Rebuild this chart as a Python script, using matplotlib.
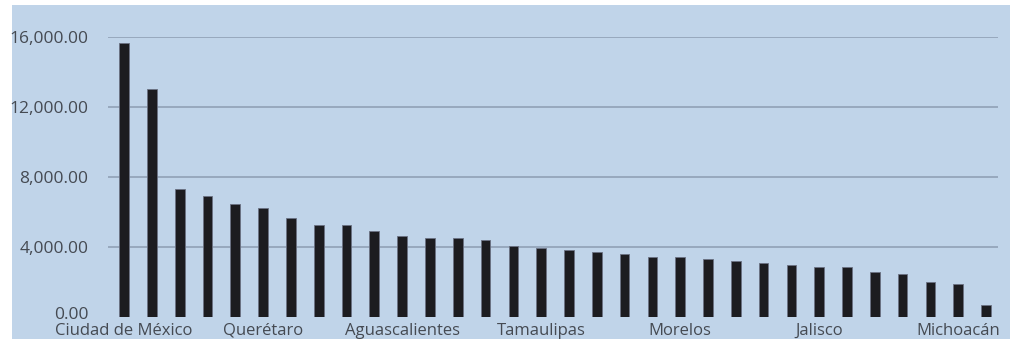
import matplotlib.pyplot as plt
from matplotlib.patches import Rectangle
from matplotlib.transforms import ScaledTranslation

# values per state, sorted descending
values = [
    15650, 13000, 7310, 6910, 6460, 6230, 5630, 5260,
    5260, 4900, 4650, 4530, 4530, 4420, 4040, 3930,
    3830, 3700, 3580, 3450, 3450, 3310, 3200, 3090,
    2970, 2840, 2840, 2570, 2470, 1980, 1870, 670,
]
tick_labels = [
    "Ciudad de México", "Querétaro", "Aguascalientes", "Tamaulipas",
    "Morelos", "Jalisco", "Michoacán",
]
y_ticks = [0, 4000, 8000, 12000, 16000]

BG = "#c0d4e9"
TEXT = "#454a52"

plt.rcParams["font.family"] = ["Open Sans", "DejaVu Sans"]

fig = plt.figure(figsize=(10.10, 3.39), dpi=100)
fig.patches.append(Rectangle((12 / 1010, 0), 998 / 1010, 334 / 339,
                             transform=fig.transFigure, facecolor=BG,
                             edgecolor="none", zorder=-10))

ax = fig.add_axes([108 / 1010, 22 / 339, 890 / 1010, 280 / 339])
ax.set_facecolor("none")

x = list(range(len(values)))
ax.bar(x, values, width=0.35, color="#1c1c20", edgecolor="#6b7283",
       linewidth=0.6, zorder=3)

ax.set_xlim(-0.58, 31.43)
ax.set_ylim(0, 16000)
ax.set_yticks(y_ticks)
ax.set_yticklabels([f"{v:,.2f}" for v in y_ticks])
ax.set_xticks(x[::5])
ax.set_xticklabels(tick_labels)

ax.tick_params(axis="y", length=0, pad=14, labelsize=12.5, labelcolor=TEXT)
ax.tick_params(axis="x", length=0, pad=4, labelsize=12, labelcolor=TEXT)

# lift the zero label a few pixels so it clears the first category name
zero = ax.get_yticklabels()[0]
zero.set_transform(zero.get_transform()
                   + ScaledTranslation(0, 3 / 72, fig.dpi_scale_trans))

ax.grid(axis="y", color="#97a8bd", linewidth=1.4, zorder=1)
ax.yaxis.get_gridlines()[0].set_visible(False)
for s in ax.spines.values():
    s.set_visible(False)

fig.savefig("out.png", dpi=100)
